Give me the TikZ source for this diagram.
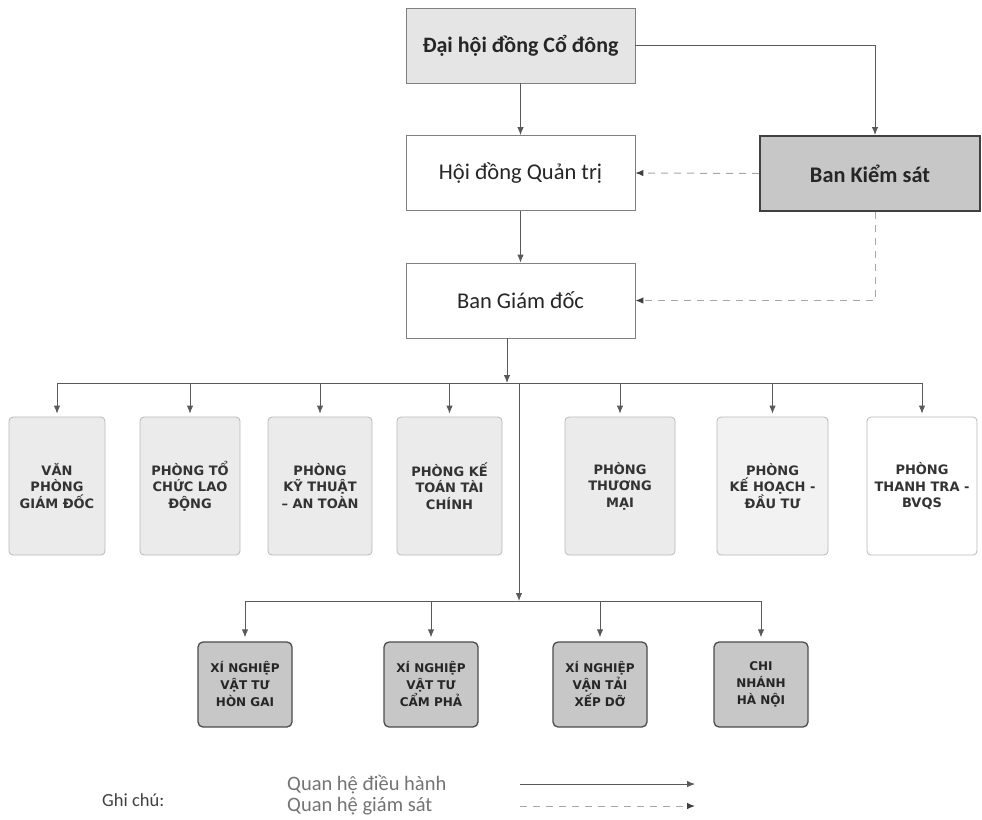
\documentclass[tikz,border=0pt]{standalone}
\usepackage{fontspec}
\setmainfont{Carlito}
\newfontfamily\depfont{DejaVu Sans}
\usetikzlibrary{arrows.meta}
\begin{document}
\begin{tikzpicture}[x=1pt,y=-1pt,
  conn/.style={draw=black!65, line width=0.9pt},
  arr/.style={conn, -{Latex[length=8pt,width=6.5pt]}},
  sup/.style={draw=black!35, line width=1pt, dash pattern=on 7pt off 6pt,
    -{Latex[length=8pt,width=6.5pt,color=black!75]}},
  topbox/.style={draw=black!50, line width=0.8pt, minimum width=229pt, minimum height=75pt,
    inner sep=0pt, text=black!85, font=\fontsize{22.5}{26}\selectfont},
  dept/.style={draw=black!28, line width=0.8pt, rounded corners=4pt, fill=black!8,
    minimum height=138pt, inner sep=0pt, align=center, text=black!80,
    font=\depfont\bfseries\fontsize{13}{16.5}\selectfont},
  unitbox/.style={draw=black!70, line width=1.3pt, rounded corners=5pt, fill=black!22,
    minimum width=94pt, minimum height=85pt, inner sep=0pt, align=center, text=black!85,
    font=\depfont\bfseries\fontsize{12}{17}\selectfont},
  legtext/.style={anchor=west, inner sep=0pt, text=black!55, font=\fontsize{20.5}{23}\selectfont}
]
\useasboundingbox (0,0) rectangle (982,819);

% top level
\node[topbox, fill=black!10, font=\bfseries\fontsize{22}{26}\selectfont] (dh) at (520.5,45.5) {Đại hội đồng Cổ đông};
\node[topbox, fill=white] (hd) at (520.5,173) {Hội đồng Quản trị};
\node[topbox, fill=white] (bgd) at (520.5,300.5) {Ban Giám đốc};
\node[draw=black!75, line width=2pt, fill=black!22, minimum width=220pt, minimum height=75pt,
  inner sep=0pt, text=black!85, font=\bfseries\fontsize{22.3}{26}\selectfont] (bks) at (870,173.5) {Ban Kiểm sát};

\coordinate (kx) at (875,0);
\draw[arr] (dh.south) -- (hd.north);
\draw[arr] (hd.south) -- (bgd.north);
\draw[arr] (dh.east) -| (kx |- bks.north);
\draw[sup] (bks.west) -- (hd.east);
\draw[sup] (kx |- bks.south) |- (bgd.east);

% departments
\node[dept] (d1) at (57,486)  [minimum width=96pt]  {VĂN\\PHÒNG\\GIÁM ĐỐC};
\node[dept] (d2) at (190,486) [minimum width=100pt] {PHÒNG TỔ\\CHỨC LAO\\ĐỘNG};
\node[dept] (d3) at (320,486) [minimum width=104pt] {PHÒNG\\KỸ THUẬT\\– AN TOÀN};
\node[dept] (d4) at (449.5,486) [minimum width=105pt] {PHÒNG KẾ\\TOÁN TÀI\\CHÍNH};
\node[dept] (d5) at (620,486) [minimum width=110pt] {PHÒNG\\THƯƠNG\\MẠI};
\node[dept, fill=black!5] (d6) at (772.5,486) [minimum width=111pt] {PHÒNG\\KẾ HOẠCH -\\ĐẦU TƯ};
\node[dept, fill=white] (d7) at (922,486) [minimum width=110pt] {PHÒNG\\THANH TRA -\\BVQS};

\coordinate (bus) at (507,383);
\draw[arr] (bgd.south -| bus) -- (bus);
\draw[conn] (d1.north |- bus) -- (d7.north |- bus);
\foreach \d in {d1,d2,d3,d4,d5,d6,d7}
  \draw[arr, shorten >=3pt] (\d.north |- bus) -- (\d.north);

% units
\node[unitbox] (b1) at (245,684.5) {XÍ NGHIỆP\\VẬT TƯ\\HÒN GAI};
\node[unitbox] (b2) at (431,684.5) {XÍ NGHIỆP\\VẬT TƯ\\CẨM PHẢ};
\node[unitbox] (b3) at (600,684.5) {XÍ NGHIỆP\\VẬN TẢI\\XẾP DỠ};
\node[unitbox] (b4) at (761,684.5) {CHI\\NHÁNH\\HÀ NỘI};

\coordinate (bus2) at (519,601);
\draw[arr] (bus2 |- bus) -- (bus2);
\draw[conn] (b1.north |- bus2) -- (b4.north |- bus2);
\foreach \b in {b1,b2,b3,b4}
  \draw[arr, shorten >=4pt] (\b.north |- bus2) -- (\b.north);

% legend
\node[anchor=west, inner sep=0pt, text=black!75, font=\fontsize{18.5}{22}\selectfont] (gc) at (102,800) {Ghi chú:};
\node[legtext] (l1) at (287,785) {Quan hệ điều hành};
\node[legtext] (l2) at (287,806) {Quan hệ giám sát};
\coordinate (la) at (520,784);
\coordinate (lb) at (695,784);
\coordinate (lc) at (520,806);
\coordinate (ld) at (695,806);
\draw[arr] (la) -- (lb);
\draw[sup] (lc) -- (ld);
\end{tikzpicture}
\end{document}
